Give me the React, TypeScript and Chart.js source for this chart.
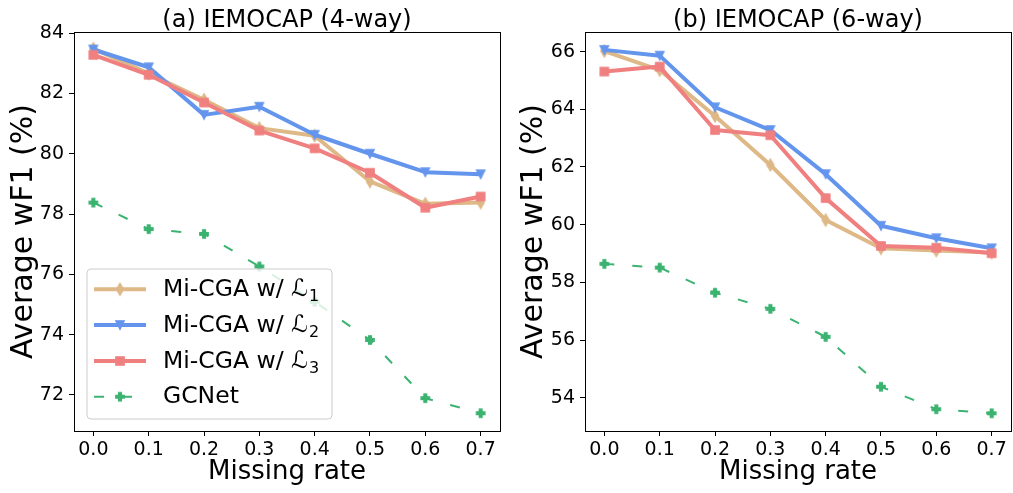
import React, { useEffect, useRef } from "react";
import { Chart, registerables } from "chart.js";

Chart.register(...registerables);

// ---------------- data ----------------
const missingRates = [0, 0.1, 0.2, 0.3, 0.4, 0.5, 0.6, 0.7];
const xTickValues = [0, 0.1, 0.2, 0.3, 0.4, 0.5, 0.6, 0.7];

const way4L1 = [83.49, 82.66, 81.79, 80.85, 80.6, 79.08, 78.34, 78.38];
const way4L2 = [83.46, 82.87, 81.29, 81.56, 80.63, 80.0, 79.39, 79.32];
const way4L3 = [83.28, 82.62, 81.7, 80.77, 80.18, 79.37, 78.21, 78.58];
const way4GCNet = [78.38, 77.5, 77.34, 76.26, 75.09, 73.82, 71.89, 71.39];
const way4YTicks = [72, 74, 76, 78, 80, 82, 84];

const way6L1 = [66.02, 65.36, 63.77, 62.07, 60.16, 59.18, 59.1, 59.03];
const way6L2 = [66.06, 65.86, 64.07, 63.28, 61.75, 59.96, 59.53, 59.18];
const way6L3 = [65.31, 65.48, 63.28, 63.1, 60.92, 59.26, 59.2, 59.01];
const way6GCNet = [58.64, 58.51, 57.64, 57.08, 56.11, 54.38, 53.6, 53.46];
const way6YTicks = [54, 56, 58, 60, 62, 64, 66];

const seriesLabels = ["Mi-CGA w/ ", "Mi-CGA w/ ", "Mi-CGA w/ ", "GCNet"];
const seriesSymbols = ["ℒ", "ℒ", "ℒ", ""];
const seriesSubscripts = ["1", "2", "3", ""];

const titles = ["(a) IEMOCAP (4-way)", "(b) IEMOCAP (6-way)"];
const xTitle = "Missing rate";
const yTitle = "Average wF1 (%)";

// ---------------- styles ----------------
const COLORS = ["#DEB887", "#6495ED", "#F08080", "#3CB371"];
const MARKERS = ["d", "v", "s", "P"];
const FONT = "DejaVu Sans";

function makeMarker(kind: string, color: string): HTMLCanvasElement {
  const S = 8.3;
  const ew = 1.4;
  const n = 20;
  const c = document.createElement("canvas");
  c.width = n;
  c.height = n;
  const ctx = c.getContext("2d")!;
  ctx.translate(n / 2, n / 2);
  ctx.beginPath();
  if (kind === "d") {
    const h = S * Math.SQRT1_2;
    const w = h * 0.6;
    ctx.moveTo(0, -h);
    ctx.lineTo(w, 0);
    ctx.lineTo(0, h);
    ctx.lineTo(-w, 0);
  } else if (kind === "v") {
    const h = S / 2;
    ctx.moveTo(0, h);
    ctx.lineTo(-h, -h);
    ctx.lineTo(h, -h);
  } else if (kind === "s") {
    const h = S / 2;
    ctx.rect(-h, -h, S, S);
  } else {
    const pts = [
      [-1, -3], [1, -3], [1, -1], [3, -1], [3, 1], [1, 1],
      [1, 3], [-1, 3], [-1, 1], [-3, 1], [-3, -1], [-1, -1],
    ];
    pts.forEach(([px, py], i) => {
      const X = (px / 6) * S;
      const Y = (py / 6) * S;
      if (i === 0) ctx.moveTo(X, Y);
      else ctx.lineTo(X, Y);
    });
  }
  ctx.closePath();
  ctx.fillStyle = color;
  ctx.fill();
  ctx.lineJoin = "miter";
  ctx.lineWidth = ew;
  ctx.strokeStyle = color;
  ctx.stroke();
  return c;
}

function buildDatasets(series: number[][]) {
  return series.map((vals, i) => {
    const isDash = i === 3;
    return {
      label: seriesLabels[i] + seriesSymbols[i] + seriesSubscripts[i],
      data: missingRates.map((x, k) => ({ x, y: vals[k] })),
      borderColor: COLORS[i],
      backgroundColor: COLORS[i],
      borderWidth: isDash ? 2 : 4,
      borderDash: isDash ? [10, 18] : [],
      borderJoinStyle: "round" as const,
      borderCapStyle: "butt" as const,
      pointStyle: makeMarker(MARKERS[i], COLORS[i]),
      pointRadius: 5,
      tension: 0,
      order: 3 - i,
      clip: false as any,
    };
  });
}

const framePlugin = {
  id: "frame",
  afterDatasetsDraw(chart: any) {
    const { ctx, chartArea } = chart;
    ctx.save();
    ctx.strokeStyle = "#000";
    ctx.lineWidth = 1;
    ctx.strokeRect(
      chartArea.left + 0.5,
      chartArea.top + 0.5,
      chartArea.right - chartArea.left,
      chartArea.bottom - chartArea.top
    );
    ctx.restore();
  },
};

function makeTitlePlugin(text: string) {
  return {
    id: "areaTitle",
    afterDraw(chart: any) {
      const { ctx, chartArea } = chart;
      ctx.save();
      ctx.fillStyle = "#000";
      ctx.font = `24px "${FONT}"`;
      ctx.textAlign = "center";
      ctx.textBaseline = "alphabetic";
      ctx.fillText(text, (chartArea.left + chartArea.right) / 2, chartArea.top - 5.5);
      ctx.restore();
    },
  };
}

function makeLegendPlugin(markers: HTMLCanvasElement[]) {
  return {
    id: "customLegend",
    afterDraw(chart: any) {
      const { ctx, chartArea } = chart;
      const boxL = chartArea.left + 13;
      const boxW = 245;
      const boxH = 150;
      const boxT = chartArea.bottom - 12 - boxH;
      ctx.save();
      const r = 4;
      ctx.beginPath();
      ctx.moveTo(boxL + r, boxT);
      ctx.lineTo(boxL + boxW - r, boxT);
      ctx.arcTo(boxL + boxW, boxT, boxL + boxW, boxT + r, r);
      ctx.lineTo(boxL + boxW, boxT + boxH - r);
      ctx.arcTo(boxL + boxW, boxT + boxH, boxL + boxW - r, boxT + boxH, r);
      ctx.lineTo(boxL + r, boxT + boxH);
      ctx.arcTo(boxL, boxT + boxH, boxL, boxT + boxH - r, r);
      ctx.lineTo(boxL, boxT + r);
      ctx.arcTo(boxL, boxT, boxL + r, boxT, r);
      ctx.closePath();
      ctx.fillStyle = "rgba(255,255,255,0.8)";
      ctx.fill();
      ctx.strokeStyle = "#cccccc";
      ctx.lineWidth = 1;
      ctx.stroke();

      const rowYs = [20.3, 56, 92, 127.7].map((d) => boxT + d);
      const lineX0 = boxL + 7;
      const lineX1 = boxL + 59;
      const textX = boxL + 76;
      const fs = 23.5;
      for (let i = 0; i < 4; i++) {
        const y = rowYs[i];
        ctx.save();
        ctx.beginPath();
        ctx.strokeStyle = COLORS[i];
        ctx.lineWidth = i === 3 ? 2 : 4;
        ctx.setLineDash(i === 3 ? [10, 18] : []);
        ctx.lineCap = "butt";
        ctx.moveTo(lineX0, y);
        ctx.lineTo(lineX1, y);
        ctx.stroke();
        ctx.restore();
        const m = markers[i];
        ctx.drawImage(m, (lineX0 + lineX1) / 2 - m.width / 2, y - m.height / 2);

        ctx.fillStyle = "#000";
        ctx.textBaseline = "alphabetic";
        ctx.textAlign = "left";
        ctx.font = `${fs}px "${FONT}"`;
        const base = y + 6.7;
        ctx.fillText(seriesLabels[i], textX, base);
        let x = textX + ctx.measureText(seriesLabels[i]).width;
        if (seriesSymbols[i]) {
          ctx.font = `italic ${fs}px "${FONT}"`;
          ctx.fillText(seriesSymbols[i], x, base);
          x += ctx.measureText(seriesSymbols[i]).width + 1;
          ctx.font = `${fs * 0.68}px "${FONT}"`;
          ctx.fillText(seriesSubscripts[i], x, base + 5);
        }
      }
      ctx.restore();
    },
  };
}

interface PanelProps {
  series: number[][];
  yTicks: number[];
  yMin: number;
  yMax: number;
  title: string;
  axisWidth: number;
  padRight: number;
  width: number;
  left: number;
  withLegend: boolean;
}

function Panel(props: PanelProps) {
  const ref = useRef<HTMLCanvasElement | null>(null);
  useEffect(() => {
    if (!ref.current) return;
    const datasets = buildDatasets(props.series);
    const markers = MARKERS.map((k, i) => makeMarker(k, COLORS[i]));
    const plugins: any[] = [framePlugin, makeTitlePlugin(props.title)];
    if (props.withLegend) plugins.push(makeLegendPlugin(markers));
    const tickFont = { family: FONT, size: 19 };
    const chart = new Chart(ref.current, {
      type: "line",
      data: { datasets: datasets as any },
      plugins,
      options: {
        responsive: false,
        animation: false,
        events: [],
        layout: { padding: { left: 0, right: props.padRight, top: 32, bottom: 0 }, autoPadding: false },
        plugins: {
          legend: { display: false },
          tooltip: { enabled: false },
          title: { display: false },
        },
        scales: {
          x: {
            type: "linear",
            min: -0.035,
            max: 0.735,
            afterBuildTicks: (s: any) => {
              s.ticks = xTickValues.map((v) => ({ value: v }));
            },
            afterFit: (s: any) => {
              s.height = 62;
            },
            ticks: {
              callback: (v: any) => Number(v).toFixed(1),
              font: tickFont,
              color: "#000",
              padding: 3,
              maxRotation: 0,
              autoSkip: false,
            },
            grid: { display: true, drawOnChartArea: false, drawTicks: true, tickLength: 5, color: "#000", lineWidth: 1 },
            border: { display: false },
            title: {
              display: true,
              text: xTitle,
              color: "#000",
              font: { family: FONT, size: 26, lineHeight: 1.2 },
              padding: { top: 0, bottom: 5 },
            },
          },
          y: {
            type: "linear",
            min: props.yMin,
            max: props.yMax,
            afterBuildTicks: (s: any) => {
              s.ticks = props.yTicks.map((v) => ({ value: v }));
            },
            afterFit: (s: any) => {
              s.width = props.axisWidth;
            },
            ticks: {
              callback: (v: any) => String(v),
              font: tickFont,
              color: "#000",
              padding: 5,
              autoSkip: false,
            },
            grid: { display: true, drawOnChartArea: false, drawTicks: true, tickLength: 5, color: "#000", lineWidth: 1 },
            border: { display: false },
            title: {
              display: true,
              text: yTitle,
              color: "#000",
              font: { family: FONT, size: 30, lineHeight: 1.2 },
              padding: { top: 6, bottom: 0 },
            },
          },
        },
      } as any,
    });
    return () => chart.destroy();
  }, []);
  return (
    <canvas
      ref={ref}
      width={props.width}
      height={493}
      style={{ position: "absolute", left: props.left, top: 0, width: props.width, height: 493 }}
    />
  );
}

export default function App() {
  return (
    <div style={{ position: "fixed", left: 0, top: 0, width: 1013, height: 493, background: "#fff", overflow: "hidden" }}>
      <Panel
        series={[way4L1, way4L2, way4L3, way4GCNet]}
        yTicks={way4YTicks}
        yMin={70.8}
        yMax={84.04}
        title={titles[0]}
        axisWidth={74}
        padRight={10}
        width={510}
        left={0}
        withLegend={true}
      />
      <Panel
        series={[way6L1, way6L2, way6L3, way6GCNet]}
        yTicks={way6YTicks}
        yMin={52.845}
        yMax={66.68}
        title={titles[1]}
        axisWidth={75}
        padRight={2}
        width={503}
        left={510}
        withLegend={false}
      />
    </div>
  );
}
